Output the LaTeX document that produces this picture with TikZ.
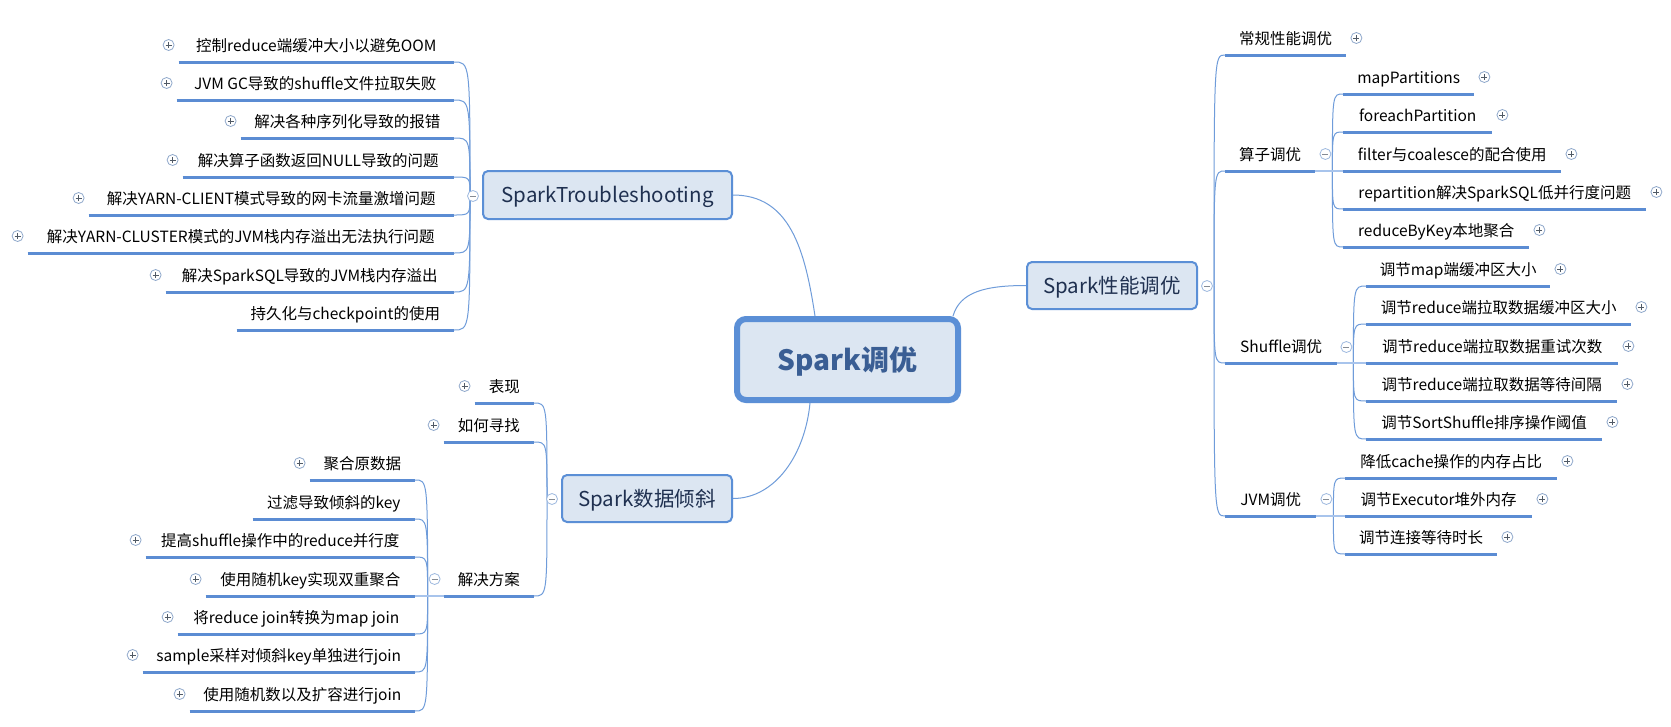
\documentclass[tikz,border=0pt]{standalone}
\usepackage{fontspec}
\setmainfont{Noto Sans CJK SC}
\usetikzlibrary{calc}
\definecolor{lineblue}{HTML}{6F9CDA}
\definecolor{ulblue}{HTML}{5B8CD3}
\definecolor{lightline}{HTML}{A8C4EC}
\definecolor{boxfill}{HTML}{DCE6F2}
\definecolor{boxdraw}{HTML}{5B8FD6}
\definecolor{toptext}{HTML}{1F3050}
\definecolor{centertext}{HTML}{3A5E94}
\definecolor{iconline}{HTML}{8FA8CB}
\definecolor{icontext}{HTML}{505A66}
\pgfdeclarelayer{bg}
\pgfsetlayers{bg,main}
\begin{document}
\begin{tikzpicture}[x=1pt,y=-1pt,
  leaf/.style={font=\fontsize{15.5pt}{18pt}\selectfont, text=black, inner xsep=0pt, inner ysep=6pt, text height=12pt, text depth=4pt},
  uline/.style={draw=ulblue, line width=3pt},
  conn/.style={draw=lineblue, line width=1pt},
  lconn/.style={draw=lightline, line width=1.5pt},
  topic/.style={draw=boxdraw, line width=2pt, fill=boxfill, rounded corners=5pt, font=\fontsize{20.5pt}{24pt}\selectfont, text=toptext, text height=15.5pt, text depth=0pt, inner sep=0pt},
  icon/.style={circle, draw=iconline, fill=white, line width=0.8pt, minimum size=11pt, inner sep=0pt},
  plusicon/.style={icon, path picture={\draw[icontext, line width=0.9pt] ([xshift=-3pt]path picture bounding box.center) -- ([xshift=3pt]path picture bounding box.center) ([yshift=-3pt]path picture bounding box.center) -- ([yshift=3pt]path picture bounding box.center);}},
  minusicon/.style={icon, draw=lightline!60!iconline, path picture={\draw[icontext!70, line width=0.9pt] ([xshift=-3pt]path picture bounding box.center) -- ([xshift=3pt]path picture bounding box.center);}},
]
\useasboundingbox (0,0) rectangle (1671,726);
\begin{pgfonlayer}{bg}
  \fill[white] (0,0) rectangle (1671,726);
\end{pgfonlayer}

% central topic
\node[draw=boxdraw, line width=6pt, fill=boxfill, rounded corners=9pt, minimum width=221pt, minimum height=81pt, inner sep=0pt, font=\fontsize{28pt}{32pt}\selectfont\bfseries, text=centertext, text height=21pt, text depth=0pt] (c) at (847.5,359.5) {Spark调优};

% main topics
\node[topic, minimum width=249pt, minimum height=48pt] (tb) at (607.5,195) {SparkTroubleshooting};
\node[topic, minimum width=170pt, minimum height=47pt] (pb) at (1112,285.5) {Spark性能调优};
\node[topic, minimum width=170pt, minimum height=47pt] (sb) at (647,498.5) {Spark数据倾斜};

% troubleshooting leaves
\node[leaf, anchor=south east, minimum width=275pt] (t1) at (454,62) {控制reduce端缓冲大小以避免OOM};
\node[leaf, anchor=south east, minimum width=277pt] (t2) at (454,100) {JVM GC导致的shuffle文件拉取失败};
\node[leaf, anchor=south east, minimum width=213pt] (t3) at (454,138) {解决各种序列化导致的报错};
\node[leaf, anchor=south east, minimum width=271pt] (t4) at (454,177) {解决算子函数返回NULL导致的问题};
\node[leaf, anchor=south east, minimum width=365pt] (t5) at (454,215) {解决YARN-CLIENT模式导致的网卡流量激增问题};
\node[leaf, anchor=south east, minimum width=426pt] (t6) at (454,253) {解决YARN-CLUSTER模式的JVM栈内存溢出无法执行问题};
\node[leaf, anchor=south east, minimum width=288pt] (t7) at (454,292) {解决SparkSQL导致的JVM栈内存溢出};
\node[leaf, anchor=south east, minimum width=217pt] (t8) at (454,330) {持久化与checkpoint的使用};

% data skew leaves
\node[leaf, anchor=south east, minimum width=59pt] (s1) at (534,403) {表现};
\node[leaf, anchor=south east, minimum width=90pt] (s2) at (534,442) {如何寻找};
\node[leaf, anchor=south east, minimum width=90pt] (s3) at (534,596) {解决方案};
\node[leaf, anchor=south east, minimum width=105pt] (r1) at (415,480) {聚合原数据};
\node[leaf, anchor=south east, minimum width=162pt] (r2) at (415,519) {过滤导致倾斜的key};
\node[leaf, anchor=south east, minimum width=269pt] (r3) at (415,557) {提高shuffle操作中的reduce并行度};
\node[leaf, anchor=south east, minimum width=209pt] (r4) at (415,596) {使用随机key实现双重聚合};
\node[leaf, anchor=south east, minimum width=237pt] (r5) at (415,634) {将reduce join转换为map join};
\node[leaf, anchor=south east, minimum width=272pt] (r6) at (415,672) {sample采样对倾斜key单独进行join};
\node[leaf, anchor=south east, minimum width=225pt] (r7) at (415,711) {使用随机数以及扩容进行join};

% performance leaves
\node[leaf, anchor=south west, minimum width=121pt] (p1) at (1225,55) {常规性能调优};
\node[leaf, anchor=south west, minimum width=90pt] (p2) at (1225,171) {算子调优};
\node[leaf, anchor=south west, minimum width=112pt] (p3) at (1225,363) {Shuffle调优};
\node[leaf, anchor=south west, minimum width=91pt] (p4) at (1225,516) {JVM调优};
\node[leaf, anchor=south west, minimum width=131pt] (o1) at (1343,94) {mapPartitions};
\node[leaf, anchor=south west, minimum width=149pt] (o2) at (1343,132) {foreachPartition};
\node[leaf, anchor=south west, minimum width=218pt] (o3) at (1343,171) {filter与coalesce的配合使用};
\node[leaf, anchor=south west, minimum width=303pt] (o4) at (1343,209) {repartition解决SparkSQL低并行度问题};
\node[leaf, anchor=south west, minimum width=186pt] (o5) at (1343,247) {reduceByKey本地聚合};
\node[leaf, anchor=south west, minimum width=184pt] (h1) at (1366,286) {调节map端缓冲区大小};
\node[leaf, anchor=south west, minimum width=265pt] (h2) at (1366,324) {调节reduce端拉取数据缓冲区大小};
\node[leaf, anchor=south west, minimum width=252pt] (h3) at (1366,363) {调节reduce端拉取数据重试次数};
\node[leaf, anchor=south west, minimum width=251pt] (h4) at (1366,401) {调节reduce端拉取数据等待间隔};
\node[leaf, anchor=south west, minimum width=236pt] (h5) at (1366,439) {调节SortShuffle排序操作阈值};
\node[leaf, anchor=south west, minimum width=212pt] (j1) at (1345,478) {降低cache操作的内存占比};
\node[leaf, anchor=south west, minimum width=187pt] (j2) at (1345,516) {调节Executor堆外内存};
\node[leaf, anchor=south west, minimum width=152pt] (j3) at (1345,554) {调节连接等待时长};

% branch points
\coordinate (PT) at ($(tb.west)+(-12,0)$);
\coordinate (PP) at ($(pb.east)+(16,0)$);
\coordinate (PS) at ($(sb.west)+(-14,0)$);
\coordinate (Pop) at ($(p2.south east)+(17,0)$);
\coordinate (Psh) at ($(p3.south east)+(16,0)$);
\coordinate (Pjv) at ($(p4.south east)+(17,0)$);
\coordinate (Prs) at ($(s3.south west)+(-16,0)$);

\begin{pgfonlayer}{bg}
  \draw[conn] ($(c.north west)+(81,0)$) .. controls (805,250) and (790,195) .. (tb.east);
  \draw[conn] ($(c.north east)+(-8,0)$) .. controls (960,292) and (985,285.5) .. (pb.west);
  \draw[conn] ($(c.south west)+(76,0)$) .. controls (805,455) and (775,498.5) .. (sb.east);
  \foreach \n in {t1,t2,t3,t4,t5,t6,t7,t8}
    \draw[conn] (PT) .. controls (PT |- \n.south east) .. (\n.south east);
  \foreach \n in {s1,s2,s3}
    \draw[conn] (PS) .. controls (PS |- \n.south east) .. (\n.south east);
  \foreach \n in {r1,r2,r3,r4,r5,r6,r7}
    \draw[conn] (Prs) .. controls (Prs |- \n.south east) .. (\n.south east);
  \foreach \n in {p1,p2,p3,p4}
    \draw[conn] (PP) .. controls (PP |- \n.south west) .. (\n.south west);
  \foreach \n in {o1,o2,o3,o4,o5}
    \draw[conn] (Pop) .. controls (Pop |- \n.south west) .. (\n.south west);
  \foreach \n in {h1,h2,h3,h4,h5}
    \draw[conn] (Psh) .. controls (Psh |- \n.south west) .. (\n.south west);
  \foreach \n in {j1,j2,j3}
    \draw[conn] (Pjv) .. controls (Pjv |- \n.south west) .. (\n.south west);
  \draw[lconn] (p2.south east) -- (o3.south west);
  \draw[lconn] (p3.south east) -- (h3.south west);
  \draw[lconn] (p4.south east) -- (j2.south west);
  \draw[lconn] (s3.south west) -- (r4.south east);
\end{pgfonlayer}

% underlines
\foreach \n in {t1,t2,t3,t4,t5,t6,t7,t8,s1,s2,s3,r1,r2,r3,r4,r5,r6,r7,p1,p2,p3,p4,o1,o2,o3,o4,o5,h1,h2,h3,h4,h5,j1,j2,j3}
  \draw[uline] (\n.south west) -- (\n.south east);

% icons
\node[minusicon] (tbi) at ($(tb.west)+(-9,1)$) {};
\node[minusicon] (pbi) at ($(pb.east)+(9,0.5)$) {};
\node[minusicon] (sbi) at ($(sb.west)+(-9,0.5)$) {};
\foreach \n in {t1,t2,t3,t4,t5,t6,t7,s1,s2,r1,r3,r4,r5,r6,r7}
  \node[plusicon] (\n-i) at ($(\n.south west)+(-10,-17)$) {};
\node[minusicon] (s3-i) at ($(s3.south west)+(-9,-17)$) {};
\foreach \n in {p1,o1,o2,o3,o4,o5,h1,h2,h3,h4,h5,j1,j2,j3}
  \node[plusicon] (\n-i) at ($(\n.south east)+(10,-17)$) {};
\node[minusicon] (p2-i) at ($(p2.south east)+(10,-17)$) {};
\node[minusicon] (p3-i) at ($(p3.south east)+(9,-16)$) {};
\node[minusicon] (p4-i) at ($(p4.south east)+(10,-17)$) {};
\end{tikzpicture}
\end{document}
